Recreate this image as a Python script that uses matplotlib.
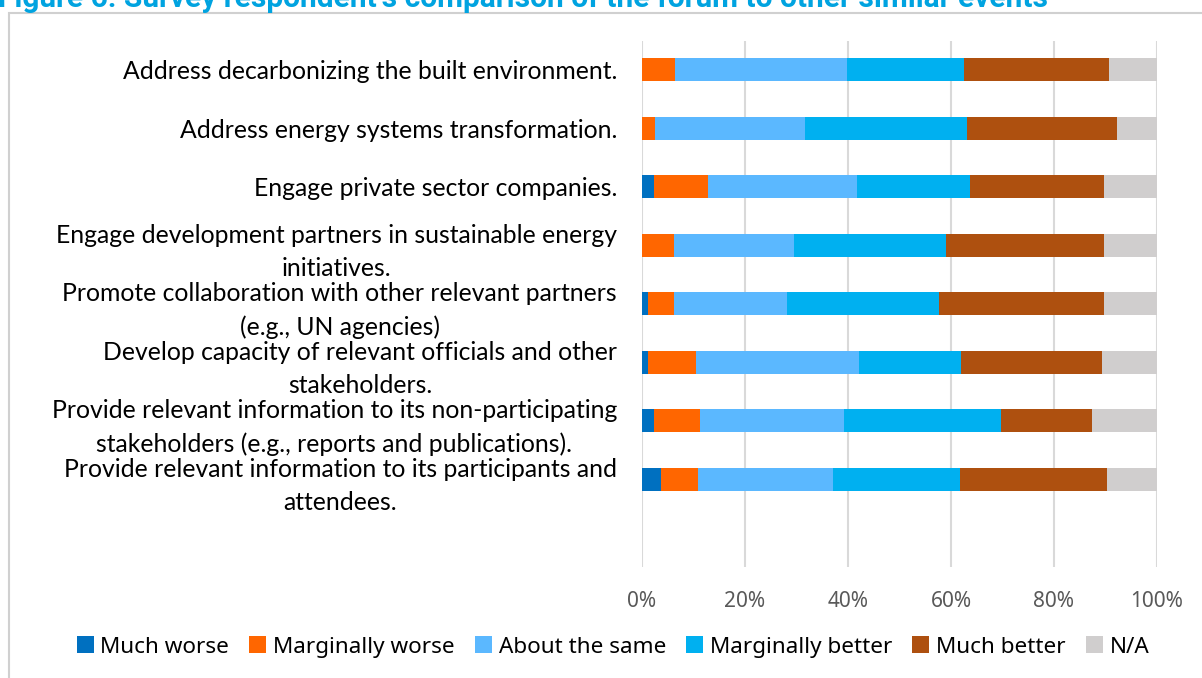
import numpy as np
import matplotlib.pyplot as plt
from matplotlib.patches import Rectangle

# survey questions (top to bottom)
questions = [
    'Address decarbonizing the built environment.',
    'Address energy systems transformation.',
    'Engage private sector companies.',
    'Engage development partners in sustainable energy\ninitiatives.',
    'Promote collaboration with other relevant partners\n(e.g., UN agencies)',
    'Develop capacity of relevant officials and other\nstakeholders.',
    'Provide relevant information to its non-participating\nstakeholders (e.g., reports and publications).',
    'Provide relevant information to its participants and\nattendees.',
]

series_names = ['Much worse', 'Marginally worse', 'About the same',
                'Marginally better', 'Much better', 'N/A']
colors = ['#0070C0', '#FF6600', '#5BB8FF', '#00B0F0', '#AE500F', '#D0CECE']

# shares in %
much_worse = [0.0, 0.0, 2.4, 0.0, 1.1, 1.1, 2.4, 3.6]
marg_worse = [6.5, 2.6, 10.4, 6.3, 5.2, 9.3, 8.9, 7.3]
about_same = [33.4, 29.1, 28.9, 23.2, 21.8, 31.8, 27.9, 26.2]
marg_better = [22.7, 31.4, 22.0, 29.5, 29.5, 19.7, 30.5, 24.6]
much_better = [28.0, 29.1, 26.0, 30.7, 32.1, 27.5, 17.7, 28.5]
not_applicable = [9.4, 7.8, 10.3, 10.3, 10.3, 10.6, 12.6, 9.8]

data = [much_worse, marg_worse, about_same, marg_better, much_better, not_applicable]

W, H = 1202, 678
fig = plt.figure(figsize=(W / 100, H / 100), dpi=100)

# border round the chart (goes off the picture on right and bottom)
fig.patches.append(Rectangle((9 / W, -0.1), 1.2, 1 - 13 / H + 0.1,
                             transform=fig.transFigure, fill=False,
                             edgecolor='#D0D0D0', linewidth=1.5))

# title, cut at the top of the picture
fig.text(-2 / W, 1 - 7 / H,
         "Figure 6. Survey respondent's comparison of the forum to other similar events",
         color='#00A3E0', fontsize=21.5, fontweight='bold', family='Roboto',
         va='baseline', ha='left')

ax = fig.add_axes([642 / W, 1 - 567 / H, (1157 - 642) / W, (567 - 40.5) / H])

y = np.arange(len(questions))
left = np.zeros(len(questions))
for name, vals, c in zip(series_names, data, colors):
    vals = np.array(vals)
    ax.barh(y, vals, left=left, height=0.4, color=c, label=name, zorder=3)
    left += vals

ax.set_xlim(0, 100)
ax.set_ylim(len(questions) + 0.5, -0.5)
ax.set_xticks(np.arange(0, 101, 20))
ax.set_xticklabels(['%d%%' % v for v in range(0, 101, 20)])
ax.xaxis.grid(True, color='#D9D9D9', linewidth=1.5, zorder=0)
ax.set_yticks(y)
ax.set_yticklabels(questions, family='Lato', fontsize=17.8, linespacing=1.5,
                   multialignment='center')
ax.tick_params(axis='y', length=0, pad=18)
ax.tick_params(axis='x', length=0, pad=17, labelsize=15, labelcolor='#595959')
for lab in ax.get_xticklabels():
    lab.set_family('Noto Sans')
for s in ax.spines.values():
    s.set_visible(False)

fig.legend(loc='center', bbox_to_anchor=(613 / W, 1 - 647 / H), ncol=6,
           frameon=False, handlelength=0.75, handleheight=0.75,
           handletextpad=0.3, columnspacing=0.9,
           prop={'family': 'Noto Sans', 'size': 16.2})

fig.savefig('out.png', dpi=100)
